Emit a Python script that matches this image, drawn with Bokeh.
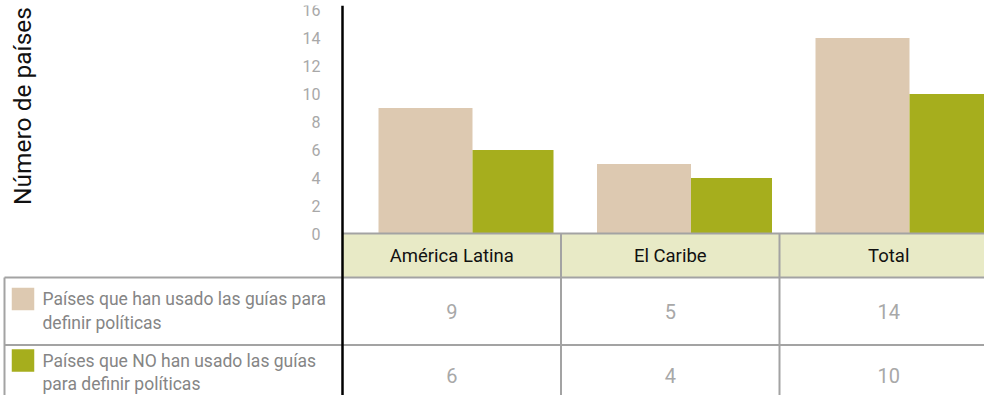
from bokeh.plotting import figure
from bokeh.models import Range1d, FixedTicker, Span, LinearAxis
from bokeh.core.properties import value
from bokeh.embed import file_html
from bokeh.resources import INLINE

# ---- data ----
categories = ["América Latina", "El Caribe", "Total"]
used = [9, 5, 14]
not_used = [6, 4, 10]
series = [used, not_used]
series_labels = ["Países que han usado las guías para\ndefinir políticas",
                 "Países que NO han usado las guías\npara definir políticas"]
series_colors = ["#ddc9b1", "#a6ae1d"]
y_ticks = [0, 2, 4, 6, 8, 10, 12, 14, 16]
y_label = "Número de países"

# ---- layout (screen-like units) ----
W, H = 984, 395
X0, X1 = 8, 992          # x range in px-like units
TOP, BOT = 13, 403       # px-like y range for the table
ZERO_PX, PX_PER_UNIT = 241.5, 14.0
TABLE_LEFT = 350
COL_W = 218.5
HEADER_TOP, HEADER_BOT = 241, 285
ROW_H = 67.5
LEG_LEFT = 12
BAR_OFF, TAN_W, GRN_W = 36, 94, 81
FONT = "Roboto"
LINE_COL = "#a3a3a3"
LEG_LINE_GAP = 23.5

y_start = (ZERO_PX - BOT) / PX_PER_UNIT
y_end = (ZERO_PX - TOP) / PX_PER_UNIT

p = figure(width=W, height=H, output_backend="svg", toolbar_location=None,
           x_range=Range1d(X0, X1), y_range=Range1d(y_start, y_end),
           x_axis_location=None, y_axis_location="left",
           min_border=0, min_border_top=TOP - 8, outline_line_color=None,
           background_fill_color="white", border_fill_color="white")
p.extra_y_ranges = {"px": Range1d(start=BOT, end=TOP)}
p.grid.visible = False

ax = p.yaxis[0]
ax.ticker = FixedTicker(ticks=y_ticks)
ax.fixed_location = TABLE_LEFT
ax.axis_line_color = None
ax.major_tick_line_color = None
ax.minor_tick_line_color = None
ax.major_tick_in = 0
ax.major_tick_out = 0
ax.major_label_standoff = 22
ax.major_label_text_font = FONT
ax.major_label_text_font_size = "16px"
ax.major_label_text_color = "#a8a8a8"

# second left axis carrying only the title, centred like the original
lab_ax = LinearAxis(ticker=FixedTicker(ticks=[]), fixed_location=TABLE_LEFT,
                    bounds=(2.0, y_end), axis_line_color=None,
                    major_tick_line_color=None, minor_tick_line_color=None,
                    major_label_text_font_size="0px",
                    axis_label=y_label, axis_label_text_font=FONT,
                    axis_label_text_font_size="24.5px",
                    axis_label_text_font_style="normal",
                    axis_label_text_color="#111111",
                    axis_label_standoff=306)
p.add_layout(lab_ax, "left")

n = len(categories)
col_left = [TABLE_LEFT + i * COL_W for i in range(n)]
col_center = [c + COL_W / 2 for c in col_left]

# header fill
p.quad(left=[TABLE_LEFT], right=[X1], top=[HEADER_TOP], bottom=[HEADER_BOT],
       y_range_name="px", fill_color="#e8eac6", line_color=None)

# bars
tan_left = [c + BAR_OFF for c in col_left]
tan_right = [l + TAN_W for l in tan_left]
grn_right = [r + GRN_W for r in tan_right]
p.quad(left=tan_left, right=tan_right, bottom=0, top=used,
       fill_color=series_colors[0], line_color=None)
p.quad(left=tan_right, right=grn_right, bottom=0, top=not_used,
       fill_color=series_colors[1], line_color=None)

# table lines
row_tops = [HEADER_BOT + i * ROW_H for i in range(len(series))]
hx0 = [TABLE_LEFT] + [LEG_LEFT] * len(series)
hy = [HEADER_TOP] + row_tops[:1] + [row_tops[0] + ROW_H]
p.segment(x0=hx0, x1=[X1] * len(hx0), y0=hy, y1=hy, y_range_name="px",
          line_color=LINE_COL, line_width=2)
vx = col_left[1:]
p.segment(x0=vx, x1=vx, y0=[HEADER_TOP] * len(vx), y1=[BOT] * len(vx),
          y_range_name="px", line_color=LINE_COL, line_width=2)
p.segment(x0=[LEG_LEFT], x1=[LEG_LEFT], y0=[HEADER_BOT], y1=[BOT],
          y_range_name="px", line_color=LINE_COL, line_width=2)

# header texts
p.text(x=col_center, y=[(HEADER_TOP + HEADER_BOT) / 2] * n, text=categories,
       y_range_name="px", text_font=value(FONT), text_font_size="18.5px",
       text_color="#111111", text_align="center", text_baseline="middle")

# values
val_y = [min(t + 34, BOT - 20) for t in row_tops]
for si, vals in enumerate(series):
    p.text(x=col_center, y=[val_y[si]] * n, text=[str(v) for v in vals],
           y_range_name="px", text_font=value(FONT), text_font_size="20px",
           text_color="#a8a8a8", text_align="center", text_baseline="middle")

# legend swatches + labels (one text per line)
leg_mid = [min(t + 33.5, BOT - 23) for t in row_tops]
p.rect(x=[LEG_LEFT + 18.5] * len(series), y=[m - 12 for m in leg_mid],
       width=22.5, height=22.5, y_range_name="px",
       fill_color=series_colors, line_color=None)
lx, ly, lt = [], [], []
for si, lab in enumerate(series_labels):
    lines = lab.split("\n")
    for li, line in enumerate(lines):
        lx.append(LEG_LEFT + 38)
        ly.append(leg_mid[si] + (li - (len(lines) - 1) / 2) * LEG_LINE_GAP)
        lt.append(line)
p.text(x=lx, y=ly, text=lt, y_range_name="px", text_font=value(FONT),
       text_font_size="17.5px", text_color="#858585", text_align="left",
       text_baseline="middle")

# black axis line spanning the frame
p.add_layout(Span(location=TABLE_LEFT, dimension="height", line_color="black",
                  line_width=2.5))

open("out.html", "w").write(file_html(p, INLINE))
